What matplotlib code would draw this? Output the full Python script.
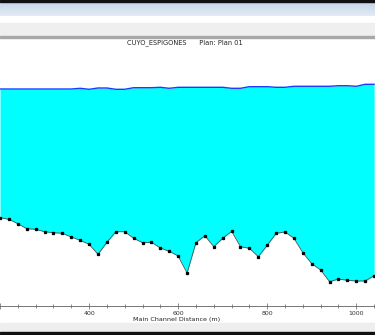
import matplotlib
matplotlib.use("Agg")
import matplotlib.pyplot as plt
import numpy as np
from matplotlib.patches import Rectangle

# river stations (m) along the main channel
stations = [200, 220, 240, 260, 280, 300, 320, 340, 360, 380, 400, 420, 440, 460,
            480, 500, 520, 540, 560, 580, 600, 620, 640, 660, 680, 700, 720, 740,
            760, 780, 800, 820, 840, 860, 880, 900, 920, 940, 960, 980, 1000, 1020, 1040]

# channel bed elevation (relative, m)
bed = [8.80, 8.64, 8.20, 7.70, 7.64, 7.40, 7.30, 7.24, 6.87, 6.54, 6.14, 5.14, 6.34, 7.40,
       7.40, 6.74, 6.30, 6.34, 5.77, 5.44, 4.97, 3.27, 6.30, 7.00, 5.90, 6.74, 7.44, 5.90,
       5.74, 4.90, 6.04, 7.24, 7.37, 6.74, 5.30, 4.20, 3.57, 2.40, 2.67, 2.54, 2.47, 2.47, 3.00]

# water surface elevation (relative, m)
ws = [21.67, 21.67, 21.67, 21.67, 21.67, 21.67, 21.67, 21.67, 21.67, 21.74, 21.64, 21.77, 21.77, 21.64,
      21.64, 21.80, 21.80, 21.80, 21.84, 21.74, 21.84, 21.84, 21.84, 21.84, 21.84, 21.84, 21.74, 21.74,
      21.90, 21.90, 21.90, 21.84, 21.84, 21.94, 21.94, 21.94, 21.94, 21.94, 22.00, 22.00, 21.94, 22.14, 22.14]

title = "CUYO_ESPIGONES      Plan: Plan 01"
xlabel = "Main Channel Distance (m)"
tick_vals = [200, 400, 600, 800, 1000]
tick_labels = ["", "400", "600", "800", "1000"]

W, H = 375, 335
fig = plt.figure(figsize=(W / 100, H / 100), dpi=100)
fig.patch.set_facecolor("white")

def fy(px):
    return 1 - px / H

# window chrome: black frame lines, title bar, toolbar, status strip
fig.patches.append(Rectangle((0, fy(2)), 1, 2 / H, transform=fig.transFigure, color="#101010", zorder=0))
bar = fig.add_axes([0, fy(16), 1, 14 / H])
grad = np.linspace(0, 1, 20).reshape(-1, 1)
bar.imshow(grad, aspect="auto", cmap=matplotlib.colors.LinearSegmentedColormap.from_list(
    "tb", ["#c7d5e8", "#e2ebf6"]), extent=[0, 1, 0, 1])
bar.axis("off")
fig.patches.append(Rectangle((0, fy(36)), 1, 13 / H, transform=fig.transFigure, color="#efefef", zorder=0))
fig.patches.append(Rectangle((0, fy(37.5)), 1, 1.5 / H, transform=fig.transFigure, color="#a8a8a8", zorder=0))
fig.patches.append(Rectangle((0, fy(332)), 1, 9 / H, transform=fig.transFigure, color="#eeeeee", zorder=0))
fig.patches.append(Rectangle((0, 0), 1, 3 / H, transform=fig.transFigure, color="#101010", zorder=0))

fig.text(184.5 / W, fy(43), title, ha="center", va="center", fontsize=4.8, color="#222222")
fig.text(177 / W, fy(320), xlabel, ha="center", va="center", fontsize=4.6, color="#222222")

ax = fig.add_axes([0, fy(305.7), 1, 255.7 / H])
ax.set_xlim(207, 1042)
ax.set_ylim(0, 25.57)
ax.patch.set_alpha(0)

ax.fill_between(stations, bed, ws, color="#00ffff", linewidth=0, zorder=1)
ax.plot(stations, ws, color="#1a3cff", linewidth=1.0, zorder=3)
ax.plot(stations, bed, color="#505050", linewidth=0.6, marker="s", markersize=1.4,
        markerfacecolor="black", markeredgecolor="black", zorder=4)

for s in ["top", "left", "right"]:
    ax.spines[s].set_visible(False)
ax.spines["bottom"].set_color("#606060")
ax.spines["bottom"].set_linewidth(0.6)
ax.set_yticks([])
ax.set_xticks(tick_vals)
ax.set_xticklabels(tick_labels)
ax.set_xticks(np.arange(200, 1041, 40), minor=True)
ax.tick_params(axis="x", which="major", direction="inout", length=4, width=0.5,
               labelsize=4.5, pad=1.5, colors="#606060", labelcolor="#333333")
ax.tick_params(axis="x", which="minor", direction="inout", length=3, width=0.5, colors="#606060")

fig.savefig("out.png", dpi=100)
